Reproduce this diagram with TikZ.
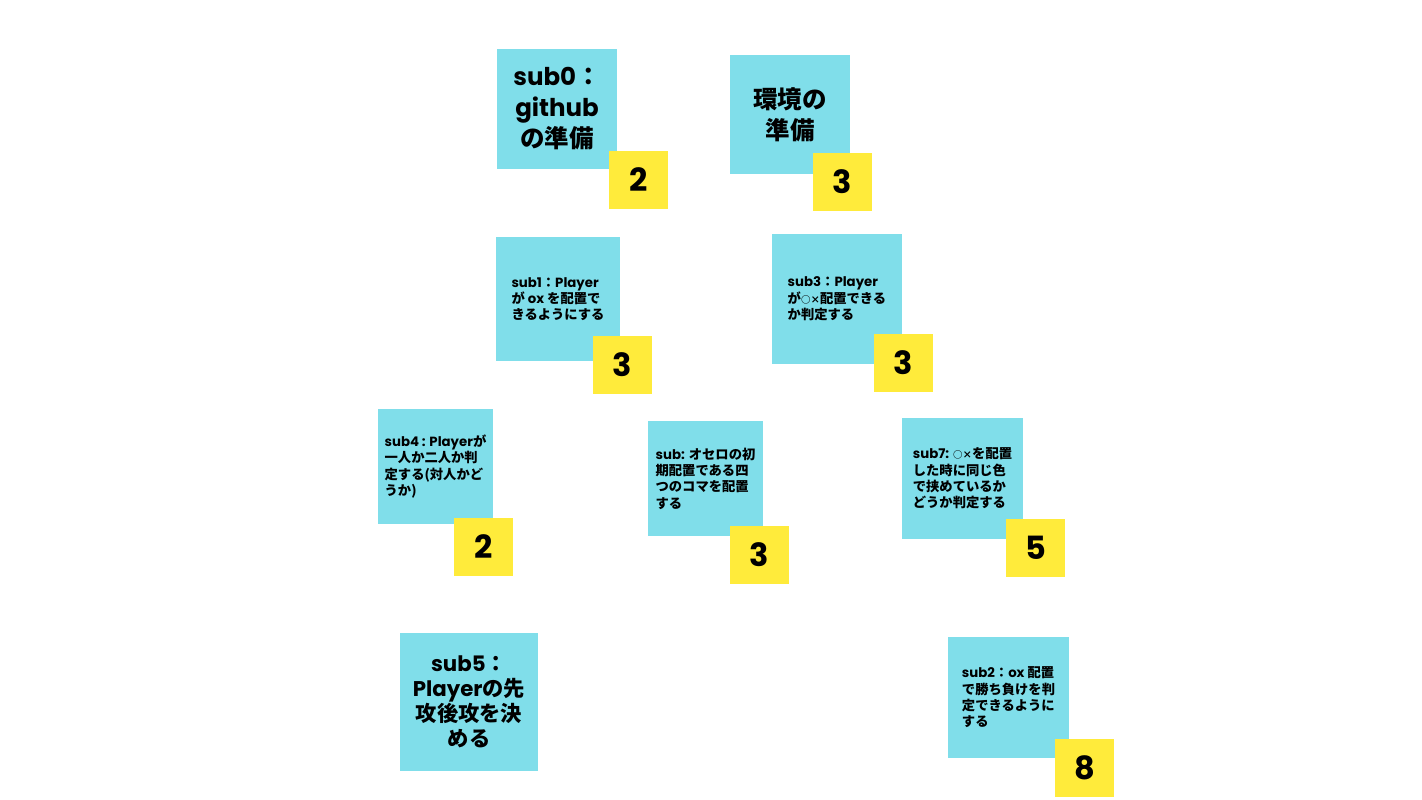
\documentclass[tikz,border=0pt]{standalone}
\usepackage{fontspec}
\setmainfont{Poppins}
\newfontfamily\jpfont{Noto Sans CJK JP}
\newfontfamily\popfont{Poppins}
\newcommand\lat[1]{{\popfont #1}}
% small circle-and-cross marks set at x-height size
\newcommand\oxmarks{{\fontsize{9.5}{9.5}\selectfont ○×}}
\definecolor{notecyan}{HTML}{80DEEA}
\definecolor{noteyellow}{HTML}{FFEB3B}
\definecolor{ink}{HTML}{000000}
\tikzset{
  note/.style={fill=notecyan, draw=none, inner sep=0pt, text=ink, align=left,
    font=\jpfont\bfseries\fontsize{13.3}{16.3}\selectfont},
  bignote/.style={note, align=center,
    font=\jpfont\bfseries\fontsize{24.5}{31}\selectfont},
  midnote/.style={note, align=center,
    font=\jpfont\bfseries\fontsize{21.3}{25}\selectfont},
  points/.style={fill=noteyellow, draw=none, inner sep=0pt,
    minimum width=59pt, minimum height=58pt, text=ink,
    font=\popfont\bfseries\fontsize{32}{32}\selectfont},
}
\begin{document}
\begin{tikzpicture}[x=1pt,y=-1pt]
\useasboundingbox (0,0) rectangle (1422,800);

% task notes
\node[bignote, minimum width=120pt, minimum height=120pt] (n0) at (557,109)
  {\lat{sub0}：\\\lat{github}\\の準備};
\node[bignote, minimum width=120pt, minimum height=119pt] (n1) at (790,114.5)
  {環境の\\準備};
\node[note, minimum width=124pt, minimum height=124pt] (n2) at (558,299)
  {\lat{sub1}：\lat{Player}\\が \lat{ox} を配置で\\きるようにする};
\node[note, minimum width=130pt, minimum height=130pt] (n3) at (837,299)
  {\lat{sub3}：\lat{Player}\\が\oxmarks 配置できる\\か判定する};
\node[note, minimum width=115pt, minimum height=115pt] (n4) at (435.5,466.5)
  {\lat{sub4 : Player}が\\一人か二人か判\\定する(対人かど\\うか)};
\node[note, minimum width=115pt, minimum height=115pt] (n5) at (705.5,478.5)
  {\lat{sub:} オセロの初\\期配置である四\\つのコマを配置\\する};
\node[note, minimum width=121pt, minimum height=121pt] (n6) at (962.5,478.5)
  {\lat{sub7:} \oxmarks を配置\\した時に同じ色\\で挟めているか\\どうか判定する};
\node[midnote, minimum width=138pt, minimum height=138pt] (n7) at (469,702)
  {\lat{sub5}：\\\lat{Player}の先\\攻後攻を決\\める};
\node[note, minimum width=121pt, minimum height=121pt] (n8) at (1008.5,697.5)
  {\lat{sub2}：\lat{ox} 配置\\で勝ち負けを判\\定できるように\\する};

% estimate squares
\node[points] (k0) at (638.5,180) {2};
\node[points] (k1) at (842.5,181.5) {3};
\node[points] (k2) at (622.5,364.5) {3};
\node[points] (k3) at (903.5,363) {3};
\node[points] (k4) at (483.5,546.5) {2};
\node[points] (k5) at (759.5,554.5) {3};
\node[points] (k6) at (1035.5,547.5) {5};
\node[points] (k8) at (1084.5,767.5) {8};
\end{tikzpicture}
\end{document}
